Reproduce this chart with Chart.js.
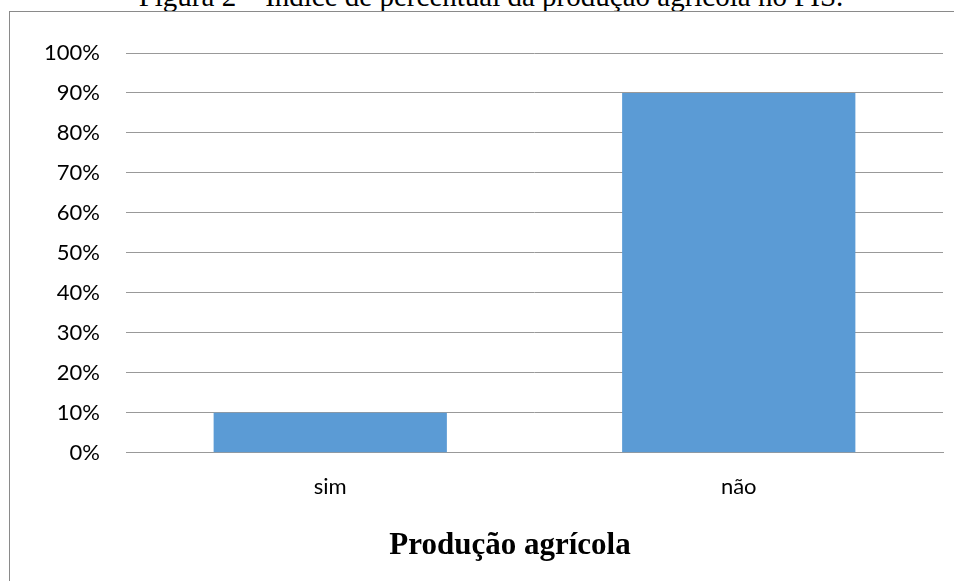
<!DOCTYPE html>
<html>
<head>
<meta charset="utf-8">
<script src="https://cdn.jsdelivr.net/npm/chart.js@4"></script>
<style>
  body { margin: 0; width: 954px; height: 581px; overflow: hidden; background: #fff; position: relative; }
  #caption { position: absolute; left: 0; width: 982px; top: -18px; text-align: center; white-space: nowrap;
    font-family: "Liberation Serif", serif; font-size: 29px; line-height: 29px; color: #000; }
  #box { position: absolute; left: 9px; top: 11px; width: 1000px; height: 570px;
    border-left: 1px solid #8a8a8a; border-top: 1px solid #8a8a8a; }
</style>
</head>
<body>
<div id="caption">Figura 2 – Índice de percentual da produção agrícola no PIS.</div>
<div id="box"><canvas id="chart" width="1000" height="570"></canvas></div>
<script>
// data
var categories = ["sim", "não"];
var values = [10, 90];
var yTicks = [0, 10, 20, 30, 40, 50, 60, 70, 80, 90, 100];

document.addEventListener('DOMContentLoaded', function() {
    var tickFont = { family: "Lato, 'Open Sans', sans-serif", size: 22 };

    new Chart(document.getElementById("chart"), {
        type: "bar",
        data: {
            labels: categories,
            datasets: [{
                data: values,
                backgroundColor: "#5B9BD5",
                categoryPercentage: 0.571,
                barPercentage: 1
            }]
        },
        options: {
            responsive: false,
            animation: false,
            layout: { padding: { top: 41, right: 0, bottom: 17, left: 0 } },
            plugins: {
                legend: { display: false },
                tooltip: { enabled: false },
                title: {
                    display: true,
                    position: "bottom",
                    text: "Produção agrícola",
                    color: "#000",
                    font: { family: "'Liberation Serif', serif", size: 31, weight: "bold" },
                    padding: { top: 0, bottom: 0 }
                }
            },
            scales: {
                x: {
                    grid: { display: false },
                    border: { color: "#999", width: 1 },
                    ticks: { color: "#000", font: tickFont, padding: 13 },
                    afterFit: function(scale) { scale.height = 75; }
                },
                y: {
                    min: 0,
                    max: 100,
                    afterBuildTicks: function(scale) {
                        scale.ticks = yTicks.map(function(v) { return { value: v }; });
                    },
                    grid: { color: "#999", drawTicks: false },
                    border: { display: false },
                    ticks: {
                        color: "#000",
                        font: tickFont,
                        padding: 26,
                        callback: function(v) { return v + "%"; }
                    },
                    afterFit: function(scale) { scale.width = 116; }
                },
                // empty right-hand space so the plot ends where the figure's does
                yRight: {
                    position: "right",
                    grid: { display: false },
                    border: { display: false },
                    ticks: { display: false },
                    afterFit: function(scale) { scale.width = 67; }
                }
            }
        }
    });
});
</script>
</body>
</html>
